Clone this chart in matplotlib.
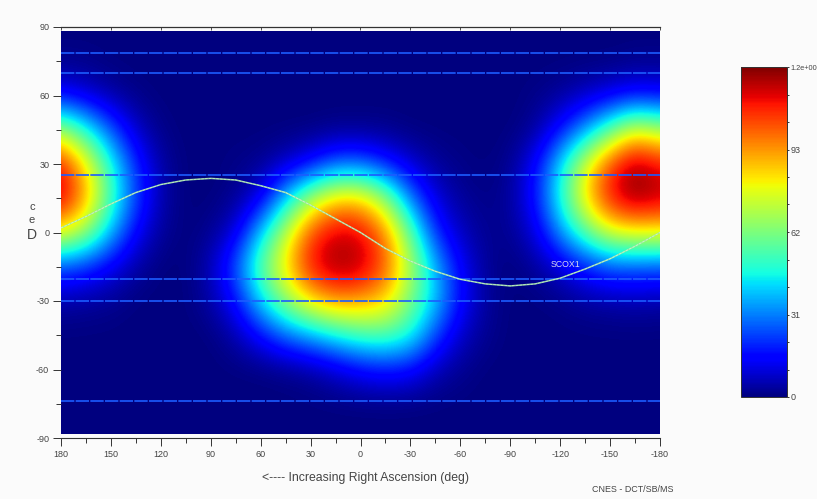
# Sky map of the CNES visibility scale, right ascension / declination
import numpy as np
import matplotlib
matplotlib.use("Agg")
import matplotlib.pyplot as plt
from matplotlib.patches import Rectangle
from matplotlib.ticker import MultipleLocator

W, H = 817, 499

# grid, 15 deg steps
lons = [180, 165, 150, 135, 120, 105, 90, 75, 60, 45, 30, 15, 0,
        -15, -30, -45, -60, -75, -90, -105, -120, -135, -150, -165, -180]
lats = [90, 75, 60, 45, 30, 15, 0, -15, -30, -45, -60, -75, -90]
row_90 = [0] * 25
row_75 = [1, 1, 0, 0, 0, 0, 0, 0, 0, 0, 0, 0, 0, 0, 0, 0, 0, 0, 0, 0, 0, 0, 0, 1, 1]
row_60 = [14, 9, 4, 1, 0, 0, 0, 0, 0, 0, 0, 0, 0, 0, 0, 0, 0, 0, 0, 1, 3, 7, 11, 15, 14]
row_45 = [68, 48, 26, 8, 1, 0, 0, 0, 0, 0, 0, 1, 1, 1, 0, 0, 0, 0, 0, 3, 16, 34, 56, 78, 68]
row_30 = [112, 82, 48, 20, 4, 0, 0, 1, 2, 7, 15, 26, 27, 18, 9, 3, 1, 0, 2, 14, 42, 76, 105, 122, 112]
row_15 = [118, 92, 54, 24, 5, 0, 0, 2, 11, 40, 68, 86, 86, 66, 30, 10, 3, 1, 3, 17, 48, 84, 112, 124, 118]
row_0 = [80, 66, 38, 14, 3, 0, 2, 10, 40, 72, 104, 116, 114, 96, 58, 20, 7, 2, 2, 10, 33, 56, 76, 80, 80]
row_m15 = [24, 20, 12, 4, 0, 0, 6, 26, 58, 84, 112, 122, 119, 102, 70, 38, 14, 3, 0, 3, 9, 18, 25, 25, 24]
row_m30 = [4, 3, 2, 0, 0, 0, 4, 16, 42, 65, 84, 94, 92, 86, 62, 40, 16, 3, 0, 0, 1, 3, 4, 5, 4]
row_m45 = [0, 0, 0, 0, 0, 0, 0, 5, 16, 28, 36, 45, 53, 55, 48, 24, 8, 2, 0, 0, 0, 0, 0, 0, 0]
row_m60 = [0, 0, 0, 0, 0, 0, 0, 0, 0, 1, 3, 8, 14, 17, 15, 6, 2, 0, 0, 0, 0, 0, 0, 0, 0]
row_m75 = [0] * 25
row_m90 = [0] * 25

# SCOX1 track, read every 15 deg
track_lon = lons
track_lat = [2, 7, 12.5, 17.5, 21, 23, 23.7, 23, 20.5, 17.5, 12, 6, 0,
             -7, -12.5, -17, -20.5, -22.5, -23.4, -22.5, -20, -16, -11.5, -6, 0]

# constant declination lines
dec_lines = [78.4, 70, 25, -20.5, -30, -74]

xticks = [180, 150, 120, 90, 60, 30, 0, -30, -60, -90, -120, -150, -180]
yticks = [90, 60, 30, 0, -30, -60, -90]
cbar_ticks = [0, 31, 62, 93, 124]
cbar_labels = ["0", "31", "62", "93", "1.2e+00"]

plt.rcParams["font.family"] = ["Liberation Sans", "DejaVu Sans"]
GREY = "#444444"


def px_axes(x0, y0, x1, y1):
    return [x0 / W, 1 - y1 / H, (x1 - x0) / W, (y1 - y0) / H]


fig = plt.figure(figsize=(W / 100, H / 100), dpi=100, facecolor="#fbfbfb")
ax = fig.add_axes(px_axes(61, 27, 660, 438), facecolor="#fbfbfb")

grid = np.array([row_90, row_75, row_60, row_45, row_30, row_15, row_0,
                 row_m15, row_m30, row_m45, row_m60, row_m75, row_m90], dtype=float)
im = ax.imshow(grid, extent=(187.5, -187.5, -97.5, 97.5), aspect="auto", cmap="jet",
               vmin=0, vmax=124, interpolation="bicubic")
im.set_clip_path(Rectangle((-180, -88.2), 360, 176.4, transform=ax.transData))

ax.set_xlim(180, -180)
ax.set_ylim(-90, 90)

for dec in dec_lines:
    ax.plot([180, -180], [dec, dec], color="#1c5cff", lw=1.2, dashes=(8, 0.8))

ax.plot(track_lon, track_lat, color="#9fe8a0", lw=1.1, alpha=0.9)
ax.plot(track_lon, track_lat, color="white", lw=0.6, dashes=(3, 1.5), alpha=0.5)
ax.text(-123, -14, "SCOX1", color="#d8d8f0", fontsize=6.3, ha="center", va="center")

ax.set_xticks(xticks)
ax.set_xticklabels([str(t) for t in xticks])
ax.set_yticks(yticks)
ax.set_yticklabels([str(t) for t in yticks])
ax.xaxis.set_minor_locator(MultipleLocator(15))
ax.yaxis.set_minor_locator(MultipleLocator(15))
ax.tick_params(axis="both", which="major", length=6, width=0.7, color="#333333",
               labelsize=6.5, labelcolor=GREY, pad=2.5)
ax.tick_params(axis="both", which="minor", length=3.5, width=0.7, color="#333333")
for side in ["left", "right"]:
    ax.spines[side].set_visible(False)
for side in ["top", "bottom"]:
    ax.spines[side].set_linewidth(0.8)
    ax.spines[side].set_color("#333333")

# small inward ticks along the top line
top = ax.secondary_xaxis("top")
top.set_xticks(xticks)
top.set_xticklabels([])
top.tick_params(direction="in", length=2, width=0.6, color="#333333")

# stacked axis name
for letter, y, size in [("c", 207, 8), ("e", 220, 8), ("D", 235, 10)]:
    fig.text(32 / W, 1 - y / H, letter, color=GREY, fontsize=size, ha="center", va="center")

fig.text(365 / W, 1 - 478 / H, "<---- Increasing Right Ascension (deg)", color=GREY,
         fontsize=8.8, ha="center", va="center")
fig.text(633 / W, 1 - 490 / H, "CNES - DCT/SB/MS", color=GREY, fontsize=6.4,
         ha="center", va="center")

# colour bar
cax = fig.add_axes(px_axes(741, 67, 787, 397))
cb = fig.colorbar(im, cax=cax)
cb.set_ticks(cbar_ticks)
cb.set_ticklabels(cbar_labels)
cax.yaxis.set_minor_locator(MultipleLocator(31 / 3))
cax.tick_params(which="major", length=1.5, width=0.7, color="#333333", labelsize=6.5,
                labelcolor=GREY, pad=0.8)
cax.tick_params(which="minor", length=1.5, width=0.7, color="#333333")
cax.get_yticklabels()[-1].set_fontsize(5.3)
cb.outline.set_linewidth(0.7)
cb.outline.set_edgecolor("#333333")

fig.savefig("out.png", dpi=100, facecolor=fig.get_facecolor())
